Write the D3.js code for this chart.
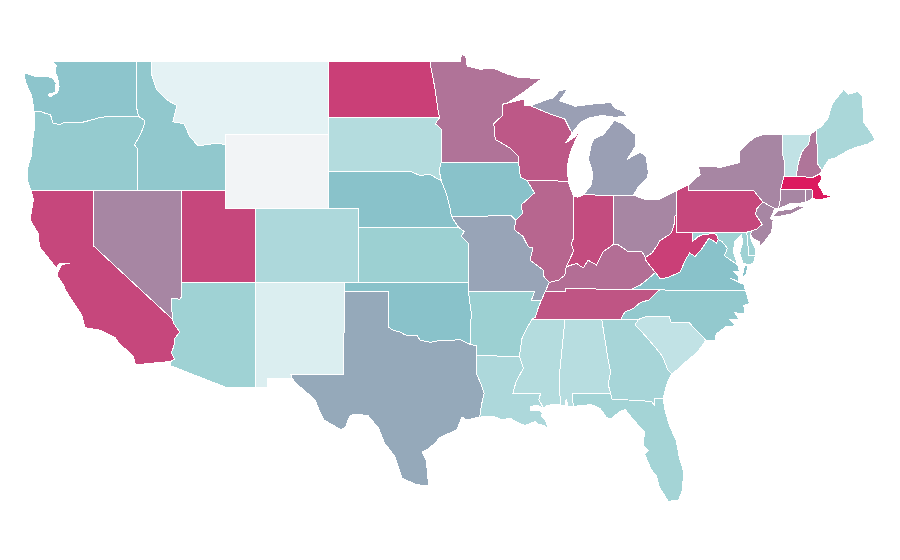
<!DOCTYPE html>
<html>
<head>
<meta charset="utf-8">
<script src="https://cdn.jsdelivr.net/npm/d3@7"></script>
<style>
  body { margin: 0; background: #fff; }
  path { stroke: #fff; stroke-width: 1px; shape-rendering: crispEdges; }
</style>
</head>
<body>
<div id="map"></div>
<script>
// shared borders as [lon, lat], used by both neighbours so the edges line up
var waCoast = [[-122.76,49],[-122.5,48.75],[-122.55,48.4],[-122.4,48.1],[-122.3,47.6],[-122.4,47.3],[-122.9,47.05],[-123.05,47.2],[-122.55,47.3],[-122.5,47.8],[-122.75,48.1],[-123.1,48.15],[-123.9,48.17],[-124.62,48.36],[-124.6,47.9],[-124.2,47.2],[-124.1,46.9],[-124.05,46.6],[-124,46.27]];
var columbia = [[-124,46.27],[-123.5,46.26],[-123.2,46.15],[-122.9,46.1],[-122.8,45.9],[-122.75,45.65],[-122.3,45.55],[-121.9,45.68],[-121.2,45.65],[-120.9,45.65],[-120.5,45.72],[-119.6,45.92],[-118.98,46],[-116.92,46]];
var waIdaho = [[-117.04,49],[-117.04,46.4],[-116.92,46]];
var snake = [[-116.92,46],[-116.48,45.75],[-116.6,45.4],[-116.85,44.95],[-117.2,44.45],[-117,44.25],[-117.03,43.85],[-117.03,42]];
var orCoast = [[-124,46.27],[-123.95,45.5],[-124.1,44.6],[-124.2,43.8],[-124.4,43.3],[-124.45,42.8],[-124.4,42.4],[-124.2,42]];
var idMont = [[-116.05,49],[-116.05,48.3],[-115.7,47.43],[-114.93,46.85],[-114.34,46.6],[-114.6,45.7],[-113.85,45.6],[-113.45,44.9],[-112.9,44.4],[-111.64,44.55],[-111.05,44.47]];
var caCoast = [[-124.2,42],[-124.04,41.47],[-124.26,40.38],[-123.7,39.65],[-123.63,38.93],[-122.9,38.2],[-122.5,37.8],[-122.2,38.05],[-121.6,38.05],[-122.15,37.95],[-122.3,37.7],[-122.45,37.4],[-122,36.85],[-121.85,36.55],[-120.77,35.23],[-120.55,34.55],[-119.5,34.4],[-118.5,34],[-118.3,33.75],[-117.3,33],[-117.12,32.53]];
var caAz = [[-114.63,35],[-114.56,34.8],[-114.14,34.3],[-114.5,33.95],[-114.53,33.55],[-114.7,33.2],[-114.5,32.85],[-114.72,32.72]];
var nvAz = [[-114.04,37],[-114.04,36.2],[-114.15,36.05],[-114.4,36.15],[-114.72,36.1],[-114.68,35.6],[-114.63,35]];
var rioGrande = [[-106.53,31.78],[-106.2,31.47],[-105,30.65],[-104.7,30.05],[-104.4,29.55],[-103.2,29],[-102.9,29.2],[-102.65,29.75],[-102.3,29.87],[-101.4,29.77],[-100.7,29.1],[-100.3,28.3],[-99.58,27.55],[-99.1,26.4],[-98.2,26.05],[-97.3,25.96]];
var txCoast = [[-97.3,25.96],[-97.4,26.8],[-97.45,27.3],[-97.75,27.8],[-97.4,27.95],[-96.85,28.3],[-96.55,28.6],[-95.4,29],[-95.05,29.7],[-94.73,29.55],[-93.85,29.7]];
var sabine = [[-94.04,33.02],[-94.04,32],[-93.8,31.55],[-93.55,31],[-93.75,30.3],[-93.85,29.7]];
var redRiver = [[-100,34.56],[-99.7,34.4],[-99.2,34.3],[-98.9,34.15],[-98.1,34.13],[-97.9,33.88],[-97.2,33.75],[-96.6,33.85],[-95.8,33.86],[-95.2,33.9],[-94.48,33.64]];
var laCoast = [[-93.85,29.7],[-93,29.75],[-92.3,29.55],[-91.8,29.65],[-91.3,29.4],[-90.8,29.25],[-90.1,29.45],[-89.9,29.3],[-89.5,29.25],[-89.2,29.05],[-89.4,29.5],[-89.7,29.75],[-89.6,29.9],[-89.8,30.05],[-90.4,30.05],[-90.45,30.25],[-90,30.35],[-89.55,30.2]];
var iaNe = [[-96.45,42.5],[-96.1,41.8],[-95.85,41],[-95.77,40.58]];
var moKs = [[-95.3,40],[-94.9,39.75],[-95.1,39.5],[-94.61,39.11]];
var mnWi = [[-92.01,46.71],[-92.29,46.66],[-92.29,46.07],[-92.9,45.6],[-92.8,44.75],[-91.8,44.28],[-91.25,43.85],[-91.22,43.5]];
var iaIl = [[-90.64,42.51],[-90.15,41.85],[-90.7,41.45],[-91.05,41.2],[-90.95,40.75],[-91.42,40.38]];
var moIl = [[-91.42,40.38],[-91.5,39.85],[-90.93,39.5],[-90.57,38.93],[-90.25,38.87],[-90.45,38.2],[-89.56,37.67],[-89.5,37.3],[-89.15,37]];
var arTn = [[-89.7,36],[-89.95,35.5],[-90.07,35.13],[-90.3,35]];
var arMs = [[-90.3,35],[-90.6,34.6],[-91,33.95],[-91.17,33]];
var laMs = [[-91.17,33],[-90.9,32.35],[-91.4,31.6],[-91.6,31]];
var msCoast = [[-88.4,30.35],[-88.85,30.4],[-89.3,30.32],[-89.55,30.2]];
var alGa = [[-85.6,35],[-85.18,32.87],[-85,32.16],[-85.16,31.45],[-85,31]];
var gaFl = [[-85,31],[-84.9,30.68],[-82.25,30.55],[-82.05,30.36],[-82.05,30.73],[-81.45,30.72]];
var flCoast = [[-81.45,30.72],[-81.3,30],[-81,29.2],[-80.55,28.4],[-80.35,27.5],[-80.08,26.8],[-80.12,25.8],[-80.4,25.2],[-81.1,25.13],[-81.7,25.9],[-81.9,26.5],[-82.25,26.85],[-82.7,27.7],[-82.45,27.9],[-82.8,28.2],[-82.7,28.9],[-83.4,29.5],[-84,30.1],[-84.35,30.02],[-85,29.6],[-85.3,29.7],[-85.7,30.15],[-86.3,30.38],[-87.52,30.28]];
var gaSc = [[-83.1,35],[-83.35,34.7],[-82.8,34.24],[-82,33.5],[-81.5,33],[-81.15,32.3],[-80.87,32.03]];
var gaCoast = [[-80.87,32.03],[-81.1,31.7],[-81.3,31.2],[-81.45,30.72]];
var scNc = [[-83.1,35],[-82.5,35.17],[-81.05,35.15],[-80.9,34.82],[-79.67,34.8],[-78.55,33.86]];
var scCoast = [[-78.55,33.86],[-79.15,33.2],[-79.9,32.7],[-80.45,32.3],[-80.87,32.03]];
var ncCoast = [[-78.55,33.86],[-77.95,33.85],[-77.85,34.2],[-77.2,34.6],[-76.55,34.65],[-76.95,35],[-76.3,35],[-76.6,35.35],[-75.9,35.3],[-76,35.75],[-75.6,35.85],[-75.87,36.55]];
var ncTn = [[-84.32,35],[-84.03,35.4],[-83.5,35.57],[-83,35.9],[-82.4,36.05],[-81.7,36.59]];
var kyVa = [[-83.68,36.6],[-83,36.85],[-82.3,37.3],[-81.97,37.54]];
var kyOh = [[-82.65,38.35],[-82.9,38.7],[-83.8,38.66],[-84.5,39.05],[-84.82,39.05]];
var kyIn = [[-84.82,39.05],[-85.5,38.66],[-85.95,37.94],[-86.52,38.2],[-86.85,37.78],[-87.3,38.03],[-88,37.85]];
var kyIl = [[-88,37.85],[-88.09,37.4],[-88.5,37.13],[-89.15,37]];
var ilIn = [[-87.52,41.7],[-87.53,39.35],[-87.65,39.1],[-87.5,38.7],[-88,37.85]];
var wiLake = [[-87.85,42.49],[-87.95,43.2],[-87.8,43.8],[-87.6,44.3],[-87.05,45.25],[-87.4,44.9],[-88.05,44.55],[-87.6,45.1]];
var wiMi = [[-90.42,46.57],[-89.1,46.13],[-88.1,45.85],[-87.75,45.3],[-87.6,45.1]];
var wiSup = [[-92.01,46.71],[-91.2,46.87],[-90.85,46.95],[-90.85,46.6],[-90.42,46.57]];
var ndMn = [[-97.23,49],[-96.9,47.6],[-96.65,46.2],[-96.56,45.94]];
var wvOh = [[-82.65,38.35],[-82.2,38.6],[-81.8,39.05],[-81.7,39.25],[-81,39.6],[-80.87,39.7],[-80.65,40.3],[-80.65,40.6],[-80.52,40.64]];
var wvMd = [[-79.48,39.2],[-79.1,39.47],[-78.75,39.6],[-78.4,39.6],[-78.2,39.68],[-77.83,39.6],[-77.72,39.32]];
var wvVa = [[-81.97,37.54],[-81.65,37.2],[-81.2,37.25],[-80.3,37.55],[-79.95,38.2],[-79.65,38.6],[-79.3,38.4],[-78.87,38.77],[-78.35,39.4],[-77.83,39.13],[-77.72,39.32]];
var vaMd = [[-77.72,39.32],[-77.45,39.2],[-77.1,38.85],[-77.3,38.45],[-76.95,38.25],[-76.4,37.95]];
var paNj = [[-74.7,41.36],[-75.1,41],[-75.2,40.7],[-74.75,40.15],[-75.1,39.9],[-75.42,39.8]];
var nyVt = [[-73.35,45],[-73.4,44],[-73.25,43.6],[-73.27,42.75]];
var vtNh = [[-71.5,45],[-71.6,44.5],[-72.05,44.1],[-72.3,43.5],[-72.46,42.73]];
var nhMe = [[-71.08,45.3],[-70.98,43.4],[-70.7,43.07]];

var stateNames = ["Washington","Oregon","Idaho","Montana","Wyoming","California","Nevada","Utah","Arizona","Colorado","New Mexico","North Dakota","South Dakota","Nebraska","Kansas","Oklahoma","Texas","Minnesota","Iowa","Missouri","Arkansas","Louisiana","Wisconsin","Illinois","Indiana","Michigan","Ohio","Kentucky","Tennessee","Mississippi","Alabama","Georgia","Florida","South Carolina","North Carolina","Virginia","West Virginia","Maryland","Delaware","Pennsylvania","New Jersey","New York","Connecticut","Rhode Island","Massachusetts","Vermont","New Hampshire","Maine"];
var stateValues = [48,44.3,46.2,7,0,86.5,68,86.5,39.5,33,11,89,29.4,50,41,50,57.5,73.5,50,59,41,32.8,81.5,77.5,85,60.5,68,75,82.5,29.4,28,35.6,37,23,45.3,50,89,39.5,39.5,86.5,68,68,68,68,100,23,73,34];
var colorStops = [0,7,25,41,50,100];
var colorRange = ["#f2f4f6","#e4f2f4","#bde0e3","#9cd0d2","#89c2ca","#dc1a5f"];

function back(a) { return a.slice().reverse(); }

var stateRings = [
  [[].concat([[-122.76,49],[-117.04,49]], waIdaho, back(columbia), back(waCoast))],
  [[].concat(columbia, snake, [[-120,42]], back(orCoast))],
  [[].concat([[-117.04,49]], idMont, [[-111.05,42]], back(snake), back(waIdaho))],
  [[].concat([[-116.05,49],[-104.05,49],[-104.05,45],[-111.05,45]], back(idMont))],
  [[[-111.05,45],[-104.05,45],[-104.05,41],[-111.05,41]]],
  [[].concat([[-124.2,42],[-120,42],[-120,39]], caAz, back(caCoast))],
  [[].concat([[-120,42],[-114.04,42]], nvAz, [[-120,39]])],
  [[[-114.04,42],[-111.05,42],[-111.05,41],[-109.05,41],[-109.05,37],[-114.04,37]]],
  [[].concat([[-114.04,37],[-109.05,37],[-109.05,31.33],[-111.07,31.33],[-114.81,32.5]], back(caAz), back(nvAz))],
  [[[-109.05,41],[-102.05,41],[-102.05,37],[-109.05,37]]],
  [[[-109.05,37],[-103,37],[-103,36.5],[-103.06,32],[-106.62,32],[-106.53,31.78],[-108.21,31.78],[-108.21,31.33],[-109.05,31.33]]],
  [[].concat([[-104.05,49]], ndMn, [[-104.05,45.94]])],
  [[[-104.05,45.94],[-96.56,45.94],[-96.85,45.6],[-96.45,45.3],[-96.45,43.5],[-96.6,43.1],[-96.45,42.5],[-97.2,42.85],[-97.9,42.8],[-98.5,43],[-104.05,43]]],
  [[].concat([[-104.05,43],[-98.5,43],[-97.9,42.8],[-97.2,42.85]], iaNe, [[-95.3,40],[-102.05,40],[-102.05,41],[-104.05,41]])],
  [[].concat([[-102.05,40]], moKs, [[-94.62,37],[-102.05,37]])],
  [[].concat([[-103,37],[-94.62,37],[-94.62,36.5],[-94.43,35.4]], back(redRiver), [[-100,36.5],[-103,36.5]])],
  [[].concat([[-103,36.5]], [[-100,36.5]], redRiver, [[-94.04,33.55]], sabine, back(txCoast), back(rioGrande), [[-106.62,32],[-103.06,32]])],
  [[].concat([[-97.23,49],[-95.15,49],[-95.1,49.35],[-94.8,49.3],[-94.7,48.72],[-93.8,48.55],[-92.95,48.62],[-92,48.3],[-91.2,48.1],[-90.75,48.1],[-89.7,48.02],[-90.9,47.3]], mnWi, [[-96.45,43.5],[-96.45,45.3],[-96.85,45.6]], back(ndMn))],
  [[].concat([[-96.45,43.5],[-91.22,43.5],[-91.1,42.7]], iaIl, [[-91.73,40.61]], back(iaNe), [[-96.6,43.1]])],
  [[].concat([[-95.77,40.58],[-91.73,40.61]], moIl, [[-89.42,36.5],[-89.7,36],[-90.37,36],[-90.15,36.5],[-94.62,36.5]], back(moKs))],
  [[].concat([[-94.62,36.5],[-90.15,36.5],[-90.37,36]], arTn, arMs, [[-94.04,33.02],[-94.04,33.55],[-94.48,33.64],[-94.43,35.4]])],
  [[].concat([[-94.04,33.02]], laMs, [[-89.73,31],[-89.85,30.65]], back(laCoast), back(sabine))],
  [[].concat(mnWi, [[-91.1,42.7],[-90.64,42.51]], wiLake, back(wiMi), back(wiSup))],
  [[].concat([[-90.64,42.51],[-87.85,42.49],[-87.8,42.3]], ilIn, kyIl, back(moIl), back(iaIl))],
  [[].concat([[-87.52,41.7],[-87.2,41.62],[-86.82,41.76],[-84.8,41.7]], kyIn, back(ilIn))],
  [[].concat([[-90.42,46.57],[-89.5,46.85],[-88.9,47],[-88.45,47.4],[-87.9,47.47],[-88.45,46.85],[-87.4,46.55],[-86.2,46.67],[-85,46.75],[-84.7,46.45],[-84.1,46.25],[-83.9,46],[-84.7,45.95],[-85.6,46.05],[-86.5,45.9],[-87,45.7]], back(wiMi)),
   [[-86.82,41.76],[-84.8,41.7],[-83.45,41.73],[-83.1,42.2],[-82.5,42.7],[-82.45,43],[-82.6,43.8],[-82.95,44.05],[-83.4,43.9],[-83.9,43.65],[-83.3,44.4],[-83.3,45],[-84.2,45.6],[-84.75,45.78],[-85.1,45.4],[-85.5,45],[-86.1,44.8],[-86.3,44.5],[-86.5,43.7],[-86.2,42.9],[-86.3,42.3]],
   [[-89.2,47.85],[-88.7,48.1],[-88.5,48.15],[-89,47.95]]],
  [[].concat([[-84.8,41.7],[-83.45,41.73],[-82.7,41.5],[-81.7,41.5],[-80.52,41.98]], back(wvOh), kyOh)],
  [[].concat([[-89.42,36.5],[-88.07,36.5],[-88.07,36.68]], kyVa, [[-82.6,38.17]], kyOh, kyIn, kyIl)],
  [[].concat([[-89.42,36.5],[-88.07,36.5],[-88.07,36.68],[-83.68,36.6]], back(ncTn), [[-85.6,35]], [[-88.2,35]], back(arTn))],
  [[].concat([[-90.3,35],[-88.2,35],[-88.1,34.9],[-88.47,31.9]], msCoast, [[-89.85,30.65],[-89.73,31]], back(laMs), back(arMs))],
  [[].concat([[-88.2,35]], alGa, [[-87.6,31],[-87.52,30.28],[-87.9,30.3],[-88,30.7],[-88.1,30.3],[-88.4,30.35],[-88.47,31.9],[-88.1,34.9]])],
  [[].concat(alGa.slice(0,1), gaSc, gaCoast, back(gaFl), back(alGa))],
  [[].concat(gaFl, flCoast, [[-87.6,31]])],
  [[].concat(back(gaSc), scNc, scCoast)],
  [[].concat(ncTn, [[-75.87,36.55]], back(ncCoast), back(scNc))],
  [[].concat([[-83.68,36.6],[-81.7,36.59],[-75.87,36.55],[-76,36.93],[-76.3,36.98],[-76.95,37.25],[-76.4,37.05],[-76.3,37.3],[-76.7,37.6],[-76.3,37.6]], back(vaMd), back(wvVa), back(kyVa)),
   [[-75.7,37.95],[-75.95,37.9],[-76.1,37.25],[-75.85,37.4]]],
  [[].concat(wvOh, [[-80.52,39.72],[-79.48,39.72]], wvMd, back(wvVa), [[-82.6,38.17]])],
  [[].concat([[-79.48,39.72],[-75.79,39.72],[-75.65,38.47],[-75.2,38.45],[-75.35,38.03],[-75.7,37.95],[-76.05,38.05],[-76.27,38.6],[-76.05,39.2],[-76.15,39.57],[-76.6,39.2],[-76.7,38.65]], back(vaMd), back(wvMd))],
  [[[-75.79,39.72],[-75.42,39.8],[-75.55,39.45],[-75.35,39.05],[-75.2,38.8],[-75.2,38.45],[-75.65,38.47]]],
  [[].concat([[-80.52,41.98],[-79.76,42.27],[-79.76,42],[-75.35,42]], paNj, [[-75.79,39.72],[-80.52,39.72]])],
  [[].concat(paNj, [[-75.55,39.6],[-75.4,39.4],[-74.95,39.2],[-74.9,38.93],[-74.4,39.4],[-74.1,39.75],[-74,40.4],[-74.2,40.45],[-74.05,40.7],[-73.9,41]])],
  [[].concat([[-79.76,42.27],[-78.95,42.85],[-79.05,43.27],[-77.5,43.25],[-76.25,43.5],[-76.25,44.15],[-75.3,44.85],[-74.7,45]], nyVt, [[-73.5,42.05],[-73.55,41.3],[-73.65,41],[-73.9,41],[-74.7,41.36],[-75.35,42],[-79.76,42]]),
   [[-74,40.6],[-73.7,40.88],[-72.7,40.98],[-72.3,41.15],[-71.9,41.07],[-72.8,40.7],[-73.6,40.58]]],
  [[[-73.5,42.05],[-71.8,42.02],[-71.85,41.32],[-72.9,41.25],[-73.65,41],[-73.55,41.3]]],
  [[[-71.8,42.02],[-71.38,42.02],[-71.35,41.55],[-71.85,41.32]]],
  [[[-73.5,42.05],[-73.27,42.75],[-72.46,42.73],[-71.3,42.7],[-70.85,42.88],[-70.7,42.65],[-70.95,42.3],[-70.7,41.95],[-70.55,41.75],[-70.15,41.72],[-70.15,41.62],[-70.65,41.52],[-71.12,41.5],[-71.35,41.55],[-71.38,42.02],[-71.8,42.02]]],
  [[].concat([[-73.35,45]], vtNh, back(nyVt))],
  [[].concat([[-71.5,45]], nhMe, [[-70.85,42.88],[-71.3,42.7]], back(vtNh))],
  [[].concat(nhMe, [[-70.25,43.65],[-69.8,43.75],[-69.05,44.1],[-68.5,44.3],[-67.6,44.5],[-67.1,44.75],[-67.45,45.2],[-67.9,45.7],[-67.95,47.1],[-68.3,47.35],[-68.9,47.2],[-69.25,47.45],[-70,46.7],[-70.3,45.9],[-70.8,45.4]])]
];

var svgWidth = 900;
var svgHeight = 560;

var svg = d3.select("#map")
  .append("svg")
  .attr("width", svgWidth)
  .attr("height", svgHeight);

// the map is a plain lon/lat stretch, so two linear scales do the job
var xScale = d3.scaleLinear().domain([-109.05, -102.05]).range([255, 358.5]);
var yScale = d3.scaleLinear().domain([49, 37]).range([61, 282.4]);

var color = d3.scaleLinear()
  .domain(colorStops)
  .range(colorRange);

var line = d3.line()
  .x(d => xScale(d[0]))
  .y(d => yScale(d[1]));

svg.selectAll("path")
  .data(stateNames)
  .enter()
  .append("path")
  .attr("d", (d, i) => stateRings[i].map(r => line(r) + "Z").join(""))
  .attr("fill", (d, i) => color(stateValues[i]));
</script>
</body>
</html>
